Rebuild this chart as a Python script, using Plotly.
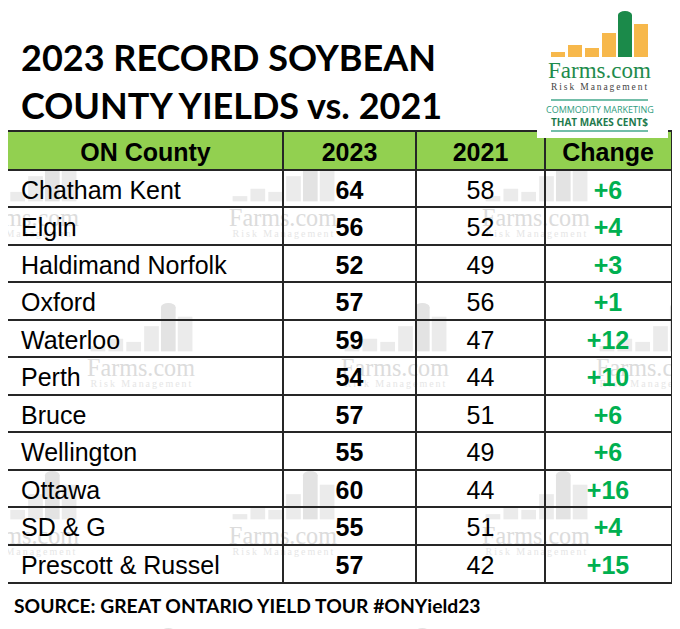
import plotly.graph_objects as go

# page body keeps an 8px margin, so the figure is 8px smaller and
# every position below is given in window pixels, then shifted
OFF = 8
W, H = 680 - OFF, 629 - OFF

# chart text
title_lines = ["2023 RECORD SOYBEAN", "COUNTY YIELDS vs. 2021"]
source_text = "SOURCE: GREAT ONTARIO YIELD TOUR #ONYield23"

# table data
headers = ["ON County", "2023", "2021", "Change"]
counties = ["Chatham Kent", "Elgin", "Haldimand Norfolk", "Oxford", "Waterloo", "Perth",
            "Bruce", "Wellington", "Ottawa", "SD & G", "Prescott & Russel"]
yield_2023 = [64, 56, 52, 57, 59, 54, 57, 55, 60, 55, 57]
yield_2021 = [58, 52, 49, 56, 47, 44, 51, 49, 44, 51, 42]
change = [6, 4, 3, 1, 12, 10, 6, 6, 16, 4, 15]

col_widths = [275, 133, 129, 126]

ARIAL = "Liberation Sans, Arial, sans-serif"
SERIF = "Liberation Serif, Times New Roman, serif"
TITLE_FONT = "Lato, Calibri, sans-serif"
LINE_COL = "#262626"
TEXT_DROP = 0.11  # text sits a little below the row middle


def px(x):
    return (x - OFF) / W


def py(y):
    return 1 - (y - OFF) / H


shapes = []
annotations = []


def add_logo(cx, cy, s, bar_col, silo_col, text_col, sub_col, layer, as_label):
    # cx, cy = centre of the "Farms.com" word, s = scale
    offs = [-48, -31, -14, 3, 19, 35]
    heights = [5, 12, 9, 24, 42, 33]
    base = cy - 13 * s
    for i, (o, h) in enumerate(zip(offs, heights)):
        col = silo_col if i == 4 else bar_col
        shapes.append(dict(type="rect", xref="paper", yref="paper", layer=layer,
                           x0=px(cx + o * s), x1=px(cx + (o + 14) * s),
                           y0=py(base), y1=py(base - h * s),
                           fillcolor=col, line_width=0))
    shapes.append(dict(type="circle", xref="paper", yref="paper", layer=layer,
                       x0=px(cx + 19 * s), x1=px(cx + 33 * s),
                       y0=py(base - 38 * s), y1=py(base - 46 * s),
                       fillcolor=silo_col, line_width=0))
    words = [("Farms.com", 0, 23 * s, text_col),
             ("\u2009".join("Risk Management"), 17 * s, 9.5 * s, sub_col)]
    for txt, dy, size, col in words:
        if as_label:
            # shape labels sit under the table text
            shapes.append(dict(type="rect", xref="paper", yref="paper", layer=layer,
                               x0=px(cx - 60), x1=px(cx + 60),
                               y0=py(cy + dy - 10), y1=py(cy + dy + 10),
                               line_width=0, fillcolor="rgba(0,0,0,0)",
                               label=dict(text=txt, textposition="middle center",
                                          font=dict(family=SERIF, size=size, color=col))))
        else:
            annotations.append(dict(text=txt, xref="paper", yref="paper",
                                    x=px(cx), y=py(cy + dy), xanchor="center",
                                    yanchor="middle", showarrow=False,
                                    font=dict(family=SERIF, size=size, color=col)))


# faint watermarks behind the table
wm_pos = [(25, 215), (283, 215), (536, 215),
          (141, 365), (395, 365), (650, 365),
          (25, 533), (283, 533), (536, 533),
          (141, 690), (395, 690), (650, 690)]
for (x, y) in wm_pos:
    add_logo(x, y, 1.05, "#ebebeb", "#e3e3e3", "#dcdcdc", "#e6e6e6", "below", True)

# table frame: x in pixels across the table, y in rows (0 = header)
edges = [0]
for w in col_widths:
    edges.append(edges[-1] + w)
centers = [(a + b) / 2 for a, b in zip(edges[:-1], edges[1:])]
n_rows = len(counties)
rows = [r + TEXT_DROP for r in range(1, n_rows + 1)]

shapes.append(dict(type="rect", xref="x", yref="y", layer="below",
                   x0=edges[0], x1=edges[-1], y0=-0.5, y1=0.5,
                   fillcolor="#92D050", line_width=0))

fig = go.Figure()

fig.add_trace(go.Scatter(
    x=centers, y=[TEXT_DROP] * len(headers), text=headers, mode="text",
    textposition="middle center",
    textfont=dict(family=ARIAL, size=25, color="black", weight="bold"),
    hoverinfo="skip",
))
fig.add_trace(go.Scatter(
    x=[13] * n_rows, y=rows, text=counties, mode="text",
    textposition="middle right",
    textfont=dict(family=ARIAL, size=25, color="black"),
    hoverinfo="skip",
))
fig.add_trace(go.Scatter(
    x=[centers[1]] * n_rows, y=rows, text=[str(v) for v in yield_2023], mode="text",
    textposition="middle center",
    textfont=dict(family=ARIAL, size=25, color="black", weight="bold"),
    hoverinfo="skip",
))
fig.add_trace(go.Scatter(
    x=[centers[2]] * n_rows, y=rows, text=[str(v) for v in yield_2021], mode="text",
    textposition="middle center",
    textfont=dict(family=ARIAL, size=25, color="black"),
    hoverinfo="skip",
))
fig.add_trace(go.Scatter(
    x=[centers[3]] * n_rows, y=rows, text=["+%d" % v for v in change], mode="text",
    textposition="middle center",
    textfont=dict(family=ARIAL, size=25, color="#00B050", weight="bold"),
    hoverinfo="skip",
))

fig.update_xaxes(
    range=[edges[0], edges[-1]], domain=[px(8), px(671)],
    tickvals=edges[1:-1], showgrid=True, gridcolor=LINE_COL, gridwidth=1.5,
    showline=True, mirror=True, linecolor=LINE_COL, linewidth=1.5,
    showticklabels=False, ticks="", zeroline=False, fixedrange=True,
)
fig.update_yaxes(
    range=[n_rows + 0.5, -0.5], domain=[py(582), py(132)],
    tickvals=[r + 0.5 for r in range(n_rows)], showgrid=True, gridcolor=LINE_COL,
    gridwidth=1.5, showline=True, mirror=True, linecolor=LINE_COL, linewidth=1.5,
    showticklabels=False, ticks="", zeroline=False, fixedrange=True,
)

# logo box (covers the table's top right corner)
shapes.append(dict(type="rect", xref="paper", yref="paper", layer="above",
                   x0=px(537), x1=px(668), y0=py(OFF), y1=py(138),
                   fillcolor="white", line_width=0))
add_logo(599, 70, 1.0, "#F7B84B", "#1B8A4A", "#1E8B4C", "#444444", "above", False)
for yy in (100, 131):
    shapes.append(dict(type="line", xref="paper", yref="paper", layer="above",
                       x0=px(551), x1=px(648), y0=py(yy), y1=py(yy),
                       line=dict(color="#45A98C", width=1.5)))
annotations.append(dict(text="COMMODITY MARKETING", xref="paper", yref="paper",
                        x=px(599.5), y=py(109), xanchor="center", yanchor="middle",
                        showarrow=False,
                        font=dict(family="Open Sans, sans-serif", size=9, color="#2E9C7E")))
annotations.append(dict(text="<b>THAT MAKES CENT$</b>", xref="paper", yref="paper",
                        x=px(599.5), y=py(122), xanchor="center", yanchor="middle",
                        showarrow=False,
                        font=dict(family="Open Sans, sans-serif", size=10, color="#1F7A4D")))

# title
for i, line in enumerate(title_lines):
    annotations.append(dict(text="<b>%s</b>" % line, xref="paper", yref="paper",
                            x=px(19), y=py(57 + 48 * i), xanchor="left", yanchor="middle",
                            showarrow=False,
                            font=dict(family=TITLE_FONT, size=36, color="black")))

# source line
annotations.append(dict(text="<b>%s</b>" % source_text, xref="paper", yref="paper",
                        x=px(12), y=py(605), xanchor="left", yanchor="middle",
                        showarrow=False,
                        font=dict(family=TITLE_FONT, size=19.3, color="black")))

fig.update_layout(
    width=W, height=H,
    margin=dict(l=0, r=0, t=0, b=0),
    paper_bgcolor="white",
    plot_bgcolor="rgba(0,0,0,0)",
    shapes=shapes,
    annotations=annotations,
    showlegend=False,
)

fig.write_html("out.html")
